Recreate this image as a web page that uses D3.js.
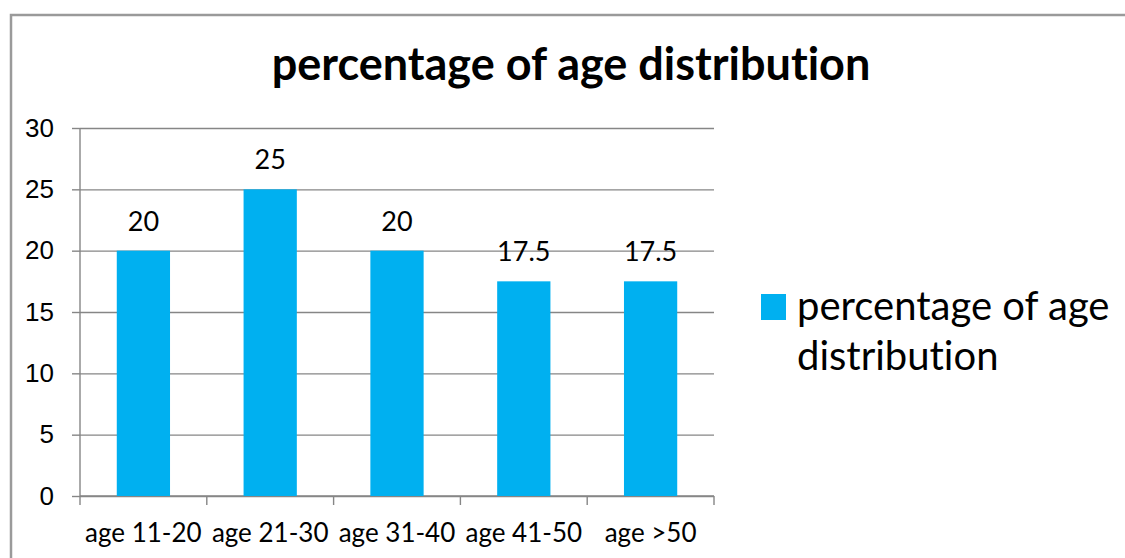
<!DOCTYPE html>
<html>
<head>
<meta charset="utf-8">
<script src="https://cdn.jsdelivr.net/npm/d3@7"></script>
<style>
  body { margin: 0; background: #fff; }
  svg { display: block; font-family: Lato, "Open Sans", sans-serif; font-variant-ligatures: none; }
  .axis path, .axis line { stroke: #868686; stroke-width: 1.4px; }
  .axis text { fill: #000; font-size: 26px; }
  .grid line { stroke: #868686; stroke-width: 1.4px; }
  .grid path { display: none; }
</style>
</head>
<body>
<div class="barchart"></div>
<script>
var categories = ["age 11-20", "age 21-30", "age 31-40", "age 41-50", "age >50"];
var values = [20, 25, 20, 17.5, 17.5];
var yTicks = [0, 5, 10, 15, 20, 25, 30];
var seriesName = "percentage of age distribution";
var titleText = "percentage of age distribution";

var margin = {top: 128, right: 411, bottom: 62, left: 80},
    width = 1125 - margin.left - margin.right,
    height = 558 - margin.top - margin.bottom;

var x = d3.scaleBand()
  .domain(categories)
  .range([0, width])
  .paddingInner(0.58)
  .paddingOuter(0.29);

var xTick = d3.scaleBand()
  .domain(categories)
  .range([0, width]);

var y = d3.scaleLinear()
  .domain([0, 30])
  .range([height, 0]);

var root = d3.select(".barchart").append("svg")
    .attr("width", 1125)
    .attr("height", 558);

// outer frame
root.append("rect")
    .attr("x", 11)
    .attr("y", 15)
    .attr("width", 1140)
    .attr("height", 600)
    .attr("fill", "none")
    .attr("stroke", "#9a9a9a")
    .attr("stroke-width", 2.5);

root.append("text")
    .attr("x", 571)
    .attr("y", 80)
    .attr("text-anchor", "middle")
    .style("font-size", "45px")
    .style("font-weight", "bold")
    .text(titleText);

var svg = root.append("g")
    .attr("transform", "translate(" + margin.left + "," + margin.top + ")");

// gridlines
svg.append("g")
    .attr("class", "grid")
    .call(d3.axisLeft(y).tickValues(yTicks).tickSize(-width).tickFormat(""));

svg.append("g")
    .attr("class", "y axis")
    .call(d3.axisLeft(y).tickValues(yTicks).tickSize(8).tickPadding(18))
    .select(".domain").attr("d", "M0," + height + "V0");

// x axis with ticks at category boundaries
var xg = svg.append("g")
    .attr("class", "x axis")
    .attr("transform", "translate(0," + height + ")");

xg.append("path")
    .attr("d", "M0,0H" + width)
    .attr("stroke", "#868686")
    .attr("stroke-width", 1.4);

xg.selectAll(".bound")
    .data(d3.range(categories.length + 1))
    .enter().append("line")
    .attr("x1", function (i) { return i * xTick.step(); })
    .attr("x2", function (i) { return i * xTick.step(); })
    .attr("y1", 0)
    .attr("y2", 9);

xg.selectAll(".lbl")
    .data(categories)
    .enter().append("text")
    .attr("x", function (d) { return xTick(d) + xTick.bandwidth() / 2; })
    .attr("y", 46)
    .attr("text-anchor", "middle")
    .text(function (d) { return d; });

var data = categories.map(function (c, i) { return {cat: c, value: values[i]}; });

svg.selectAll(".bar")
    .data(data)
    .enter().append("rect")
    .attr("class", "bar")
    .attr("x", function (d) { return x(d.cat); })
    .attr("width", x.bandwidth())
    .attr("y", function (d) { return y(d.value); })
    .attr("height", function (d) { return height - y(d.value); })
    .attr("fill", "#00b0f0");

svg.selectAll(".val")
    .data(data)
    .enter().append("text")
    .attr("x", function (d) { return x(d.cat) + x.bandwidth() / 2; })
    .attr("y", function (d) { return y(d.value) - 20; })
    .attr("text-anchor", "middle")
    .style("font-size", "27px")
    .text(function (d) { return d.value; });

// legend
var legend = root.append("g")
    .attr("transform", "translate(761,294)");

legend.append("rect")
    .attr("width", 25)
    .attr("height", 26)
    .attr("fill", "#00b0f0");

legend.append("text")
    .style("font-size", "40px")
    .selectAll("tspan")
    .data(["percentage of age", "distribution"])
    .enter().append("tspan")
    .attr("x", 36)
    .attr("y", function (d, i) { return 26 + i * 50; })
    .text(function (d) { return d; });
</script>
</body>
</html>
